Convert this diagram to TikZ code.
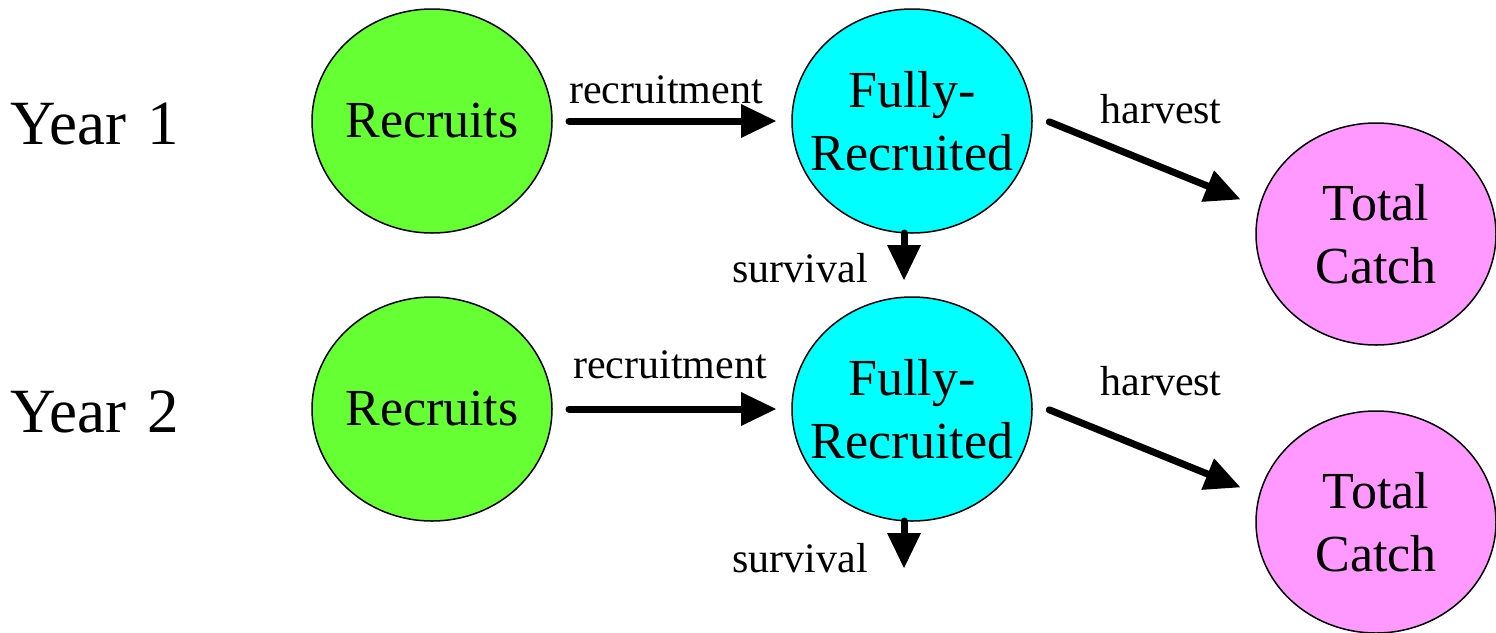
\documentclass[tikz,border=0pt]{standalone}
\usepackage{fontspec}
\setmainfont{Liberation Serif}
\usetikzlibrary{shapes.geometric,arrows.meta,calc}
\definecolor{recgreen}{RGB}{102,255,51}
\definecolor{fullcyan}{RGB}{0,255,255}
\definecolor{catchpink}{RGB}{255,153,255}
\tikzset{
  blob/.style={ellipse, draw=black, line width=1.5pt, outer sep=0pt,
    inner xsep=-20pt, inner ysep=0pt, minimum width=240pt, minimum height=224pt,
    align=center, font=\fontsize{52}{63}\selectfont},
  recbox/.style={blob, fill=recgreen},
  fullbox/.style={blob, fill=fullcyan},
  catchbox/.style={blob, fill=catchpink, minimum height=222pt},
  flow/.style={line width=7pt, line cap=round,
    -{Triangle[length=35pt,width=34pt,line width=0pt]}},
  edgelabel/.style={anchor=base, inner sep=0pt, font=\fontsize{42}{50}\selectfont},
  yearlabel/.style={anchor=base west, inner sep=0pt, font=\fontsize{63}{70}\selectfont}
}
\begin{document}
\begin{tikzpicture}[x=1pt,y=-1pt]
\useasboundingbox (0,0) rectangle (1496,632);
% year labels
\node[yearlabel] (y1) at (10,144) {Year\hspace{0.33em}1};
\node[yearlabel] (y2) at (10,432) {Year\hspace{0.33em}2};
% row 1
\node[recbox] (r1) at (432,121) {Recruits};
\node[fullbox] (f1) at (912,121) {Fully-\\Recruited};
\node[catchbox] (t1) at (1376,234) {Total\\Catch};
% row 2
\node[recbox] (r2) at (432,409) {Recruits};
\node[fullbox] (f2) at (912,409) {Fully-\\Recruited};
\node[catchbox] (t2) at (1376,522) {Total\\Catch};
\coordinate (s2end) at (904,568);
% connectors
\draw[flow, shorten <=17pt, shorten >=16pt] (r1.east) -- (f1.west);
\draw[flow, shorten <=17pt, shorten >=16pt] (r2.east) -- (f2.west);
\draw[flow, shorten <=19pt, shorten >=21pt] (f1.3.5) -- (t1.167.4);
\draw[flow, shorten <=19pt, shorten >=21pt] (f2.3.5) -- (t2.167.4);
\draw[flow, shorten >=17pt] ($(f1.south)+(-8,0)$) -- ($(f2.north)+(-8,0)$);
\draw[flow] ($(f2.south)+(-8,0)$) -- (s2end);
% edge labels
\node[edgelabel] (lr1) at (666,103) {recruitment};
\node[edgelabel] (lr2) at (670,378) {recruitment};
\node[edgelabel] (lh1) at (1161,123) {harvest};
\node[edgelabel] (lh2) at (1161,395) {harvest};
\node[edgelabel] (ls1) at (800,282) {survival};
\node[edgelabel] (ls2) at (800,572) {survival};
\end{tikzpicture}
\end{document}
